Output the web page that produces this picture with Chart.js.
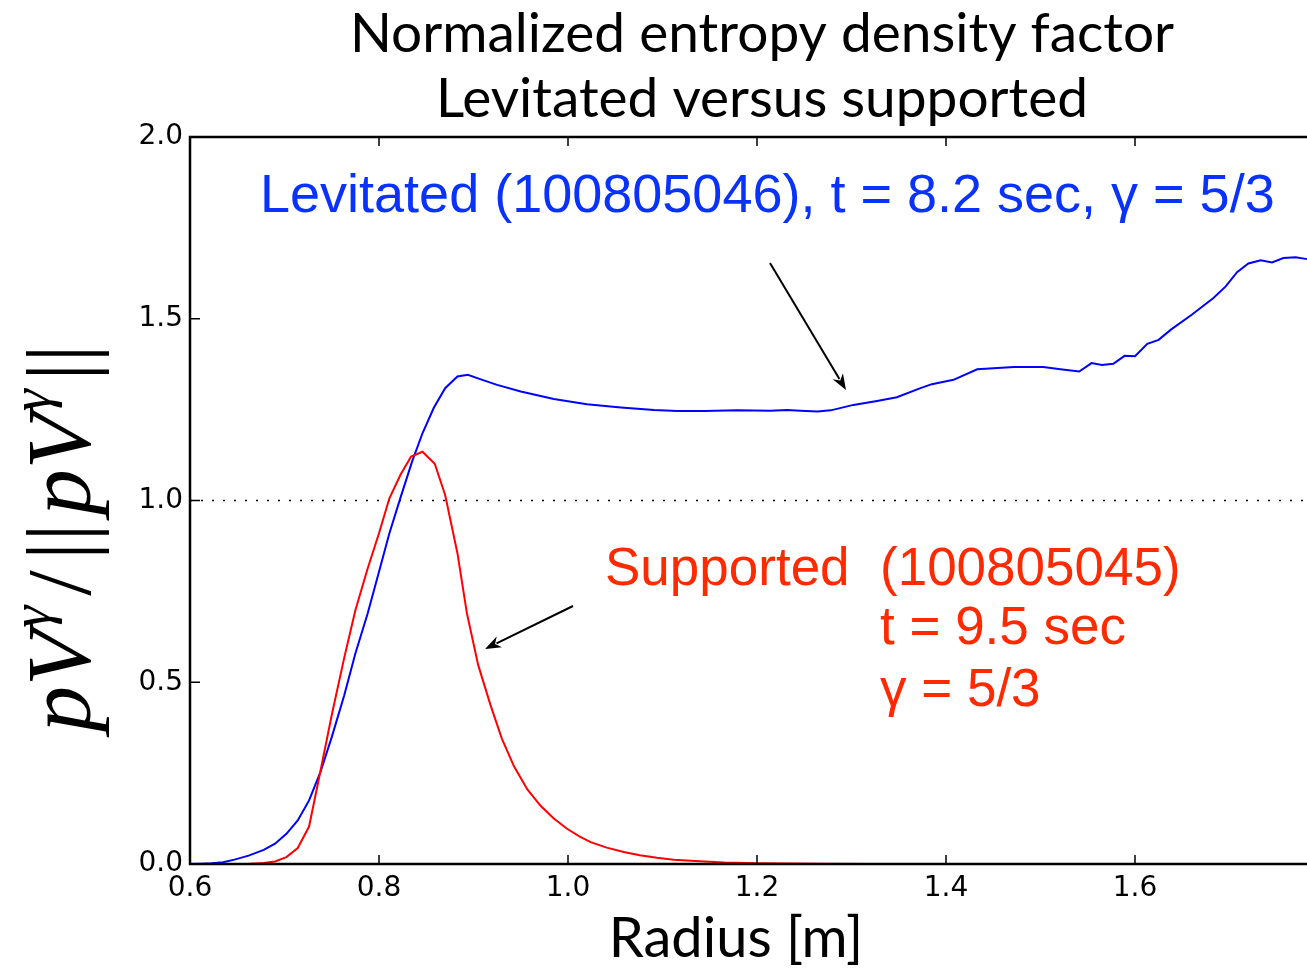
<!DOCTYPE html>
<html>
<head>
<meta charset="utf-8">
<script src="https://cdn.jsdelivr.net/npm/chart.js@4.4.1/dist/chart.umd.min.js"></script>
<style>
  html, body { margin: 0; padding: 0; background: #fff; overflow: hidden; }
  canvas { display: block; }
</style>
</head>
<body>
<canvas id="data" width="1330" height="970"></canvas>
<script>
// levitated shot 100805046 (blue)
const levRadius = [0.600, 0.612, 0.623, 0.635, 0.647, 0.662, 0.678, 0.690, 0.702, 0.714, 0.726, 0.738, 0.750, 0.763, 0.775, 0.788, 0.800, 0.811, 0.823, 0.835, 0.846, 0.858, 0.870, 0.883, 0.894, 0.907, 0.925, 0.950, 0.985, 1.020, 1.056, 1.091, 1.116, 1.144, 1.179, 1.214, 1.232, 1.246, 1.264, 1.278, 1.302, 1.327, 1.348, 1.373, 1.385, 1.408, 1.433, 1.472, 1.503, 1.521, 1.541, 1.554, 1.565, 1.577, 1.589, 1.600, 1.613, 1.625, 1.638, 1.660, 1.683, 1.696, 1.708, 1.720, 1.733, 1.745, 1.757, 1.770, 1.782];
const levValue  = [0.000, 0.001, 0.002, 0.005, 0.012, 0.023, 0.039, 0.056, 0.083, 0.120, 0.175, 0.253, 0.349, 0.462, 0.579, 0.689, 0.804, 0.910, 1.010, 1.107, 1.185, 1.255, 1.309, 1.341, 1.346, 1.334, 1.318, 1.300, 1.279, 1.265, 1.256, 1.249, 1.246, 1.246, 1.248, 1.247, 1.249, 1.247, 1.245, 1.248, 1.263, 1.274, 1.284, 1.309, 1.320, 1.332, 1.361, 1.367, 1.367, 1.361, 1.355, 1.378, 1.373, 1.376, 1.398, 1.397, 1.431, 1.442, 1.470, 1.511, 1.557, 1.589, 1.628, 1.652, 1.661, 1.655, 1.667, 1.669, 1.664];

// supported shot 100805045 (red)
const supRadius = [0.600, 0.660, 0.678, 0.690, 0.702, 0.714, 0.726, 0.738, 0.750, 0.763, 0.775, 0.788, 0.800, 0.811, 0.823, 0.834, 0.846, 0.859, 0.870, 0.883, 0.893, 0.905, 0.918, 0.930, 0.943, 0.957, 0.971, 0.985, 0.999, 1.012, 1.024, 1.041, 1.059, 1.076, 1.094, 1.112, 1.130, 1.165, 1.200, 1.260, 1.320, 1.782];
const supValue  = [0.000, 0.000, 0.003, 0.007, 0.019, 0.044, 0.103, 0.255, 0.410, 0.565, 0.698, 0.813, 0.910, 1.006, 1.072, 1.121, 1.134, 1.101, 1.015, 0.855, 0.690, 0.547, 0.437, 0.345, 0.268, 0.205, 0.160, 0.125, 0.097, 0.076, 0.060, 0.045, 0.033, 0.024, 0.017, 0.012, 0.009, 0.004, 0.002, 0.001, 0.000, 0.000];

// reference level and axis ticks
const refLevel = 1.0;
const xTicks = [0.6, 0.8, 1.0, 1.2, 1.4, 1.6];
const yTicks = [0.0, 0.5, 1.0, 1.5, 2.0];

const titleLines = ['Normalized entropy density factor', 'Levitated versus supported'];
const xTitle = 'Radius [m]';
const levLabel = 'Levitated (100805046), t = 8.2 sec, \u03b3 = 5/3';
const supLabel = ['Supported', '(100805045)', 't = 9.5 sec', '\u03b3 = 5/3'];

const toPoints = (xs, ys) => xs.map((x, i) => ({ x: x, y: ys[i] }));

function drawArrow(ctx, x0, y0, x1, y1) {
    const a = Math.atan2(y1 - y0, x1 - x0);
    const len = 16, half = 6;
    ctx.beginPath();
    ctx.moveTo(x0, y0);
    ctx.lineTo(x1 - Math.cos(a) * len * 0.8, y1 - Math.sin(a) * len * 0.8);
    ctx.stroke();
    ctx.beginPath();
    ctx.moveTo(x1, y1);
    ctx.lineTo(x1 - Math.cos(a) * len - Math.sin(a) * half, y1 - Math.sin(a) * len + Math.cos(a) * half);
    ctx.lineTo(x1 - Math.cos(a) * len * 0.7, y1 - Math.sin(a) * len * 0.7);
    ctx.lineTo(x1 - Math.cos(a) * len + Math.sin(a) * half, y1 - Math.sin(a) * len - Math.cos(a) * half);
    ctx.closePath();
    ctx.fill();
}

// spines + inward tick marks, like matplotlib
const framePlugin = {
    id: 'frame',
    afterDatasetsDraw(chart) {
        const { ctx, chartArea: ca, scales } = chart;
        ctx.save();
        ctx.strokeStyle = '#000';
        ctx.lineWidth = 1.5;
        ctx.beginPath();
        xTicks.forEach(t => {
            const px = scales.x.getPixelForValue(t);
            ctx.moveTo(px, ca.bottom); ctx.lineTo(px, ca.bottom - 9);
            ctx.moveTo(px, ca.top); ctx.lineTo(px, ca.top + 9);
        });
        yTicks.forEach(t => {
            const py = scales.y.getPixelForValue(t);
            ctx.moveTo(ca.left, py); ctx.lineTo(ca.left + 10, py);
        });
        ctx.stroke();
        ctx.lineWidth = 2.5;
        ctx.beginPath();
        ctx.moveTo(ca.right, ca.top);
        ctx.lineTo(ca.left, ca.top);
        ctx.lineTo(ca.left, ca.bottom);
        ctx.lineTo(ca.right, ca.bottom);
        ctx.stroke();
        ctx.restore();
    }
};

// titles, y label and annotations
const textPlugin = {
    id: 'texts',
    afterDraw(chart) {
        const ctx = chart.ctx;
        ctx.save();
        ctx.fillStyle = '#000';
        ctx.textBaseline = 'alphabetic';
        ctx.textAlign = 'center';
        ctx.font = '55px Lato';
        ctx.fillText(titleLines[0], 762, 52);
        ctx.fillText(titleLines[1], 762, 117);
        ctx.font = '56px Lato';
        ctx.fillText(xTitle, 736, 957);

        // y label: pV^γ / ||pV^γ||
        ctx.save();
        ctx.translate(90, 732);
        ctx.rotate(-Math.PI / 2);
        ctx.textAlign = 'left';
        const big = 'italic 92px "Liberation Serif"';
        const sup = 'italic 56px "Liberation Serif"';
        const up = '92px "Liberation Serif"';
        const parts = [
            [big, 'p', 0, 0], [big, 'V', 0, 2], [sup, '\u03b3', -40, 10],
            [up, '/', 0, 10], [up, '||', 0, 8],
            [big, 'p', 0, 0], [big, 'V', 0, 2], [sup, '\u03b3', -40, 8],
            [up, '||', 0, 0]
        ];
        let x = 0;
        parts.forEach(([font, txt, dy, gap]) => {
            ctx.font = font;
            ctx.fillText(txt, x, dy);
            x += ctx.measureText(txt).width + gap;
        });
        ctx.restore();

        ctx.textAlign = 'left';
        ctx.font = '54px "Liberation Sans"';
        ctx.fillStyle = '#0a32ff';
        ctx.fillText(levLabel, 260, 212);
        ctx.font = '53px "Liberation Sans"';
        ctx.fillStyle = '#ff2a00';
        ctx.fillText(supLabel[0], 605, 585);
        ctx.fillText(supLabel[1], 880, 585);
        ctx.fillText(supLabel[2], 880, 644);
        ctx.fillText(supLabel[3], 880, 706);

        ctx.strokeStyle = '#000';
        ctx.fillStyle = '#000';
        ctx.lineWidth = 2;
        drawArrow(ctx, 770, 263, 846, 390);
        drawArrow(ctx, 573, 606, 485, 649);
        ctx.restore();
    }
};

const tickFont = { family: 'DejaVu Sans', size: 28 };

new Chart(document.getElementById('data'), {
    type: 'line',
    data: {
        datasets: [
            {
                label: 'Supported',
                data: toPoints(supRadius, supValue),
                borderColor: '#ff0000',
                borderWidth: 2,
                pointRadius: 0,
                tension: 0
            },
            {
                label: 'Levitated',
                data: toPoints(levRadius, levValue),
                borderColor: '#0000ff',
                borderWidth: 2,
                pointRadius: 0,
                tension: 0
            },
            {
                label: 'reference',
                data: [{ x: 0.6, y: refLevel }, { x: 1.8, y: refLevel }],
                borderColor: '#000',
                borderWidth: 1.5,
                borderDash: [2, 9],
                pointRadius: 0
            }
        ]
    },
    options: {
        responsive: false,
        animation: false,
        devicePixelRatio: 1,
        layout: { padding: { top: 137, right: 6, left: 0, bottom: 0 } },
        plugins: { legend: { display: false }, tooltip: { enabled: false }, title: { display: false } },
        scales: {
            x: {
                type: 'linear',
                min: 0.6,
                max: 1.8,
                afterBuildTicks: s => { s.ticks = xTicks.map(v => ({ value: v })); },
                ticks: { font: tickFont, color: '#000', padding: 8, maxRotation: 0, callback: v => v.toFixed(1) },
                grid: { display: false, drawTicks: false },
                border: { display: false },
                afterFit: s => { s.height = 106; }
            },
            y: {
                min: 0,
                max: 2,
                afterBuildTicks: s => { s.ticks = yTicks.map(v => ({ value: v })); },
                ticks: { font: tickFont, color: '#000', padding: 7, callback: v => v.toFixed(1) },
                grid: { display: false, drawTicks: false },
                border: { display: false },
                afterFit: s => { s.width = 190; }
            }
        }
    },
    plugins: [framePlugin, textPlugin]
});
</script>
</body>
</html>
